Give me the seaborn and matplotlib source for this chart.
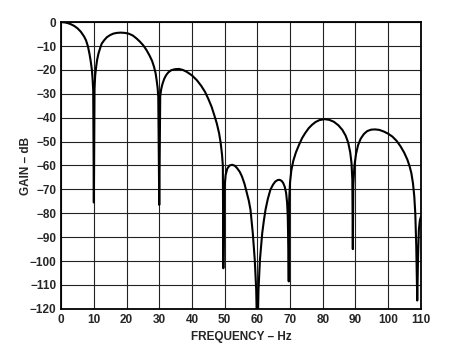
import matplotlib
matplotlib.use("Agg")
import matplotlib.pyplot as plt
import seaborn as sns
import pandas as pd

# frequency (Hz) and gain (dB)
freq = [0, 1.0, 2.0, 3.0, 4.0, 5.0, 6.0, 7.0, 7.6, 8.2, 8.65, 9.0, 9.4, 9.6,
        9.8, 10.0,
        10.2, 10.4, 10.7, 11.0, 11.4, 11.9, 12.4, 13.2, 14.0, 15.0, 16.0,
        17.1, 18.2, 19.4, 20.6, 21.9, 23.1, 24.1, 25.1, 26.1, 27.0, 27.8,
        28.4, 28.9, 29.2, 29.5, 29.7, 30.0,
        30.3, 30.6, 31.0, 31.5, 32.1, 32.8, 33.7, 34.8, 36.0, 37.2, 38.4,
        40.0, 41.5, 42.8, 44.0, 45.0, 46.0, 46.8, 47.6, 48.3, 48.8, 49.2,
        49.45, 49.6,
        49.9, 50.3, 50.8, 51.5, 52.3, 53.1, 53.8, 54.6, 55.3, 56.1, 56.8,
        57.4, 57.9, 58.6, 59.2, 59.65, 60.0,
        60.35, 60.8, 61.5, 62.0, 62.5, 63.2, 64.0, 64.8, 65.5, 66.2, 66.8,
        67.4, 67.9, 68.4, 68.8, 69.1, 69.3, 69.5, 69.6,
        69.75, 70.0, 70.4, 71.0, 71.8, 72.7, 73.7, 74.7, 75.7, 76.7, 77.8,
        79.0, 80.5, 82.0, 83.4, 84.8, 86.0, 87.0, 87.8, 88.4, 88.8, 89.05,
        89.2,
        89.35, 89.7, 90.2, 90.8, 91.6, 92.6, 93.6, 94.8, 96.0, 97.3, 98.7,
        100.0, 101.3, 102.6, 103.8, 104.9, 105.9, 106.6, 107.1, 107.6, 108.0,
        108.3, 108.6, 108.9,
        109.15, 109.4, 109.7, 110.0]
gain = [0, -0.1, -0.4, -0.9, -1.6, -2.6, -4.0, -6.0, -7.6, -10.2, -13.2,
        -16.0, -20.0, -23.5, -28.5, -75.5,
        -28.0, -22.5, -18.7, -15.8, -13.2, -11.0, -9.0, -7.5, -6.3, -5.4,
        -4.8, -4.5, -4.4, -4.5, -4.8, -5.6, -6.9, -8.2, -9.7, -11.7, -13.9,
        -16.2, -18.7, -21.5, -24.3, -27.5, -31.2, -76.5,
        -31.0, -28.0, -25.8, -23.8, -22.2, -21.0, -20.1, -19.7, -19.6, -20.0,
        -20.8, -22.3, -24.3, -26.6, -29.2, -32.1, -35.4, -38.8, -42.4, -46.5,
        -50.7, -55.5, -60.0, -103.0,
        -70.0, -64.0, -61.3, -60.0, -59.7, -60.1, -61.1, -62.6, -64.6, -67.8,
        -71.5, -74.8, -78.5, -88.2, -99.3, -112.0, -135.0,
        -112.0, -99.3, -88.2, -83.0, -78.5, -74.0, -70.1, -68.0, -66.7, -66.1,
        -66.0, -66.4, -67.3, -69.0, -71.5, -75.5, -81.2, -95.0, -108.5,
        -74.0, -67.0, -62.0, -58.0, -54.5, -51.5, -48.5, -46.3, -44.4, -43.0,
        -41.8, -41.0, -40.6, -40.9, -41.7, -43.2, -45.1, -47.5, -50.5, -54.5,
        -59.0, -66.0, -95.0,
        -68.0, -60.0, -55.0, -51.5, -48.8, -46.8, -45.6, -45.0, -44.9, -45.1,
        -45.8, -46.7, -47.9, -49.7, -52.0, -54.6, -57.6, -60.5, -63.2, -67.5,
        -73.0, -80.0, -93.7, -116.5,
        -98.0, -86.8, -83.0, -81.5]

x_ticks = list(range(0, 111, 10))
y_ticks = list(range(-120, 1, 10))

df = pd.DataFrame({"freq": freq, "gain": gain})

sns.set_theme(style="white")
plt.rcParams["font.family"] = ["Liberation Sans", "DejaVu Sans"]

fig = plt.figure(figsize=(4.53, 3.51), dpi=100)
ax = fig.add_axes([0.135, 0.12, 0.794, 0.817])

sns.lineplot(data=df, x="freq", y="gain", sort=False, estimator=None,
             color="black", linewidth=1.5, ax=ax)

ax.set_xlim(0, 110)
ax.set_ylim(-120, 0)
ax.set_xticks(x_ticks)
ax.set_yticks(y_ticks)
ax.grid(True, color="#222222", linewidth=0.8)
ax.set_axisbelow(True)
for s in ax.spines.values():
    s.set_color("black")
    s.set_linewidth(1.3)
ax.tick_params(length=0, labelsize=8.5, pad=3.5)
for lbl in ax.get_xticklabels() + ax.get_yticklabels():
    lbl.set_fontweight("bold")

ax.set_xlabel("FREQUENCY \u2013 Hz", fontsize=8.5, fontweight="bold", labelpad=4)
ax.set_ylabel("GAIN \u2013 dB", fontsize=8.5, fontweight="bold")
ax.yaxis.set_label_coords(-0.080, 0.5)

fig.savefig("out.png", dpi=100)
plt.close(fig)
